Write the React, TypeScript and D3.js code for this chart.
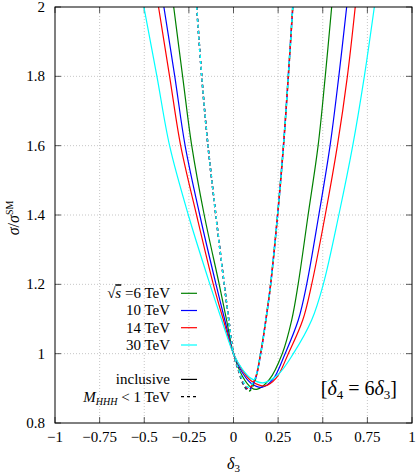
import React from "react";
import * as d3 from "d3";

// axis ticks
const delta3Ticks = [-1, -0.75, -0.5, -0.25, 0, 0.25, 0.5, 0.75, 1];
const sigmaTicks = [0.8, 1, 1.2, 1.4, 1.6, 1.8, 2];

// collider energies (TeV) and colours
const energies = ["6", "10", "14", "30"];
const colors = ["#008000", "#0000ff", "#ff0000", "#00ffff"];

// inclusive cross section ratio, [delta3, sigma/sigmaSM]
const incl6: [number, number][] = [
  [-0.335, 2.0], [-0.285, 1.8], [-0.234, 1.6], [-0.164, 1.4], [-0.08, 1.2],
  [-0.04, 1.1], [0, 1.0], [0.05, 0.935], [0.1, 0.902], [0.13, 0.897],
  [0.2, 0.925], [0.273, 1.0], [0.326, 1.097], [0.362, 1.2], [0.418, 1.4],
  [0.474, 1.6], [0.514, 1.8], [0.55, 2.0],
];
const incl10: [number, number][] = [
  [-0.39, 2.0], [-0.329, 1.8], [-0.271, 1.6], [-0.189, 1.4], [-0.098, 1.2],
  [-0.05, 1.1], [0, 1.0], [0.05, 0.945], [0.1, 0.914], [0.158, 0.903],
  [0.22, 0.925], [0.289, 1.0], [0.363, 1.097], [0.41, 1.2], [0.478, 1.4],
  [0.541, 1.6], [0.59, 1.8], [0.634, 2.0],
];
const incl14: [number, number][] = [
  [-0.42, 2.0], [-0.358, 1.8], [-0.296, 1.6], [-0.207, 1.4], [-0.113, 1.2],
  [-0.058, 1.1], [0, 1.0], [0.05, 0.952], [0.1, 0.921], [0.176, 0.907],
  [0.24, 0.93], [0.307, 1.0], [0.388, 1.097], [0.438, 1.2], [0.514, 1.4],
  [0.582, 1.6], [0.638, 1.8], [0.682, 2.0],
];
const incl30: [number, number][] = [
  [-0.502, 2.0], [-0.429, 1.8], [-0.358, 1.6], [-0.253, 1.4], [-0.132, 1.2],
  [-0.068, 1.1], [0, 1.0], [0.05, 0.955], [0.1, 0.928], [0.165, 0.916],
  [0.25, 0.94], [0.335, 1.0], [0.438, 1.097], [0.503, 1.2], [0.59, 1.4],
  [0.668, 1.6], [0.733, 1.8], [0.789, 2.0],
];

// with the cut M_HHH < 1 TeV
const cut6: [number, number][] = [
  [-0.206, 2.0], [-0.178, 1.8], [-0.143, 1.6], [-0.099, 1.4], [-0.052, 1.2],
  [-0.027, 1.1], [0, 1.0], [0.027, 0.952], [0.06, 0.906], [0.088, 0.892],
  [0.12, 0.922], [0.152, 1.0], [0.182, 1.1], [0.208, 1.2], [0.247, 1.4],
  [0.28, 1.6], [0.307, 1.8], [0.332, 2.0],
];
const cut10: [number, number][] = [
  [-0.206, 2.0], [-0.178, 1.8], [-0.143, 1.6], [-0.099, 1.4], [-0.052, 1.2],
  [-0.027, 1.1], [0, 1.0], [0.027, 0.953], [0.06, 0.909], [0.086, 0.896],
  [0.12, 0.924], [0.152, 1.0], [0.182, 1.1], [0.208, 1.2], [0.247, 1.4],
  [0.28, 1.6], [0.307, 1.8], [0.332, 2.0],
];
const cut14: [number, number][] = [
  [-0.206, 2.0], [-0.178, 1.8], [-0.143, 1.6], [-0.099, 1.4], [-0.052, 1.2],
  [-0.027, 1.1], [0, 1.0], [0.027, 0.954], [0.06, 0.911], [0.085, 0.899],
  [0.12, 0.926], [0.152, 1.0], [0.182, 1.1], [0.208, 1.2], [0.247, 1.4],
  [0.28, 1.6], [0.307, 1.8], [0.332, 2.0],
];
const cut30: [number, number][] = [
  [-0.206, 2.0], [-0.178, 1.8], [-0.143, 1.6], [-0.099, 1.4], [-0.052, 1.2],
  [-0.027, 1.1], [0, 1.0], [0.027, 0.956], [0.06, 0.914], [0.084, 0.903],
  [0.12, 0.928], [0.152, 1.0], [0.182, 1.1], [0.208, 1.2], [0.247, 1.4],
  [0.28, 1.6], [0.307, 1.8], [0.332, 2.0],
];

const inclusive = [incl6, incl10, incl14, incl30];
const withCut = [cut6, cut10, cut14, cut30];

const W = 416;
const H = 474;
const left = 55, right = 412, top = 7, bottom = 423;
const font = "'Liberation Serif', 'Times New Roman', serif";

const fmt = (v: number) => String(v).replace("-", "\u2212");

export default function App() {
  const x = d3.scaleLinear().domain([-1, 1]).range([left, right]);
  const y = d3.scaleLinear().domain([0.8, 2]).range([bottom, top]);

  const path = d3
    .line<[number, number]>()
    .x((d) => x(d[0]))
    .y((d) => y(d[1]))
    .curve(d3.curveCatmullRom.alpha(0.5));

  const legendY = [293.3, 310.5, 327.7, 345];
  const legendY2 = [379.4, 396.6];

  return (
    <svg
      width={W}
      height={H}
      style={{ position: "absolute", left: 0, top: 0, background: "#fff" }}
      fontFamily={font}
    >
      <defs>
        <clipPath id="plot">
          <rect x={left} y={top} width={right - left} height={bottom - top} />
        </clipPath>
      </defs>

      {/* grid */}
      <g stroke="#b8b8b8" strokeWidth={0.8} strokeDasharray="1,2">
        {delta3Ticks.slice(1, -1).map((t) => (
          <line key={"gx" + t} x1={x(t)} x2={x(t)} y1={top} y2={bottom} />
        ))}
        {sigmaTicks.slice(1, -1).map((t) => (
          <line key={"gy" + t} x1={left} x2={right} y1={y(t)} y2={y(t)} />
        ))}
      </g>

      {/* ticks, inward on all sides */}
      <g stroke="#333" strokeWidth={0.8}>
        {delta3Ticks.map((t) => (
          <g key={"tx" + t}>
            <line x1={x(t)} x2={x(t)} y1={bottom} y2={bottom - 6} />
            <line x1={x(t)} x2={x(t)} y1={top} y2={top + 6} />
          </g>
        ))}
        {sigmaTicks.map((t) => (
          <g key={"ty" + t}>
            <line x1={left} x2={left + 6} y1={y(t)} y2={y(t)} />
            <line x1={right} x2={right - 6} y1={y(t)} y2={y(t)} />
          </g>
        ))}
      </g>

      {/* curves */}
      <g clipPath="url(#plot)" fill="none" strokeWidth={1.2}>
        {inclusive.map((s, i) => (
          <path key={"i" + i} d={path(s) || ""} stroke={colors[i]} />
        ))}
        {withCut.map((s, i) => (
          <path
            key={"c" + i}
            d={path(s) || ""}
            stroke={colors[i]}
            strokeDasharray="3,3"
            strokeWidth={1.5}
          />
        ))}
      </g>

      {/* frame */}
      <rect
        x={left}
        y={top}
        width={right - left}
        height={bottom - top}
        fill="none"
        stroke="#000"
        strokeWidth={1}
      />

      {/* tick labels */}
      <g fontSize={15} fill="#000">
        {delta3Ticks.map((t) => (
          <text key={"lx" + t} x={x(t)} y={bottom + 19} textAnchor="middle">
            {fmt(t)}
          </text>
        ))}
        {sigmaTicks.map((t) => (
          <text key={"ly" + t} x={left - 10} y={y(t)} dy="0.33em" textAnchor="end">
            {fmt(t)}
          </text>
        ))}
      </g>

      {/* axis titles */}
      <text x={x(0)} y={469} textAnchor="middle" fontSize={16}>
        <tspan fontStyle="italic">δ</tspan>
        <tspan fontSize={11} dy={3}>3</tspan>
      </text>
      <text
        transform={`translate(19, ${(top + bottom) / 2 + 3}) rotate(-90)`}
        textAnchor="middle"
        fontSize={16}
      >
        <tspan fontStyle="italic">σ</tspan>
        <tspan>/</tspan>
        <tspan fontStyle="italic">σ</tspan>
        <tspan fontSize={10} dy={-6}>SM</tspan>
      </text>

      {/* legend */}
      <g fontSize={15}>
        {energies.map((e, i) => (
          <g key={"lg" + e}>
            <text x={170} y={legendY[i]} dy="0.33em" textAnchor="end">
              {i === 0 ? (
                <>
                  <tspan>√</tspan>
                  <tspan fontStyle="italic" textDecoration="overline">s</tspan>
                  <tspan> =6 TeV</tspan>
                </>
              ) : (
                `${e} TeV`
              )}
            </text>
            <line
              x1={181}
              x2={197}
              y1={legendY[i]}
              y2={legendY[i]}
              stroke={colors[i]}
              strokeWidth={1.2}
            />
          </g>
        ))}
        <text x={170} y={legendY2[0]} dy="0.33em" textAnchor="end">
          inclusive
        </text>
        <line x1={181} x2={197} y1={legendY2[0]} y2={legendY2[0]} stroke="#000" strokeWidth={1.2} />
        <text x={170} y={legendY2[1]} dy="0.33em" textAnchor="end">
          <tspan fontStyle="italic">M</tspan>
          <tspan fontStyle="italic" fontSize={10} dy={3}>HHH</tspan>
          <tspan dy={-3}> &lt; 1 TeV</tspan>
        </text>
        <line
          x1={181}
          x2={197}
          y1={legendY2[1]}
          y2={legendY2[1]}
          stroke="#000"
          strokeWidth={1.2}
          strokeDasharray="3,3"
        />
      </g>

      {/* annotation */}
      <text x={397} y={395} textAnchor="end" fontSize={20}>
        <tspan>[</tspan>
        <tspan fontStyle="italic">δ</tspan>
        <tspan fontSize={13} dy={4}>4</tspan>
        <tspan dy={-4}> = 6</tspan>
        <tspan fontStyle="italic">δ</tspan>
        <tspan fontSize={13} dy={4}>3</tspan>
        <tspan dy={-4}>]</tspan>
      </text>
    </svg>
  );
}
